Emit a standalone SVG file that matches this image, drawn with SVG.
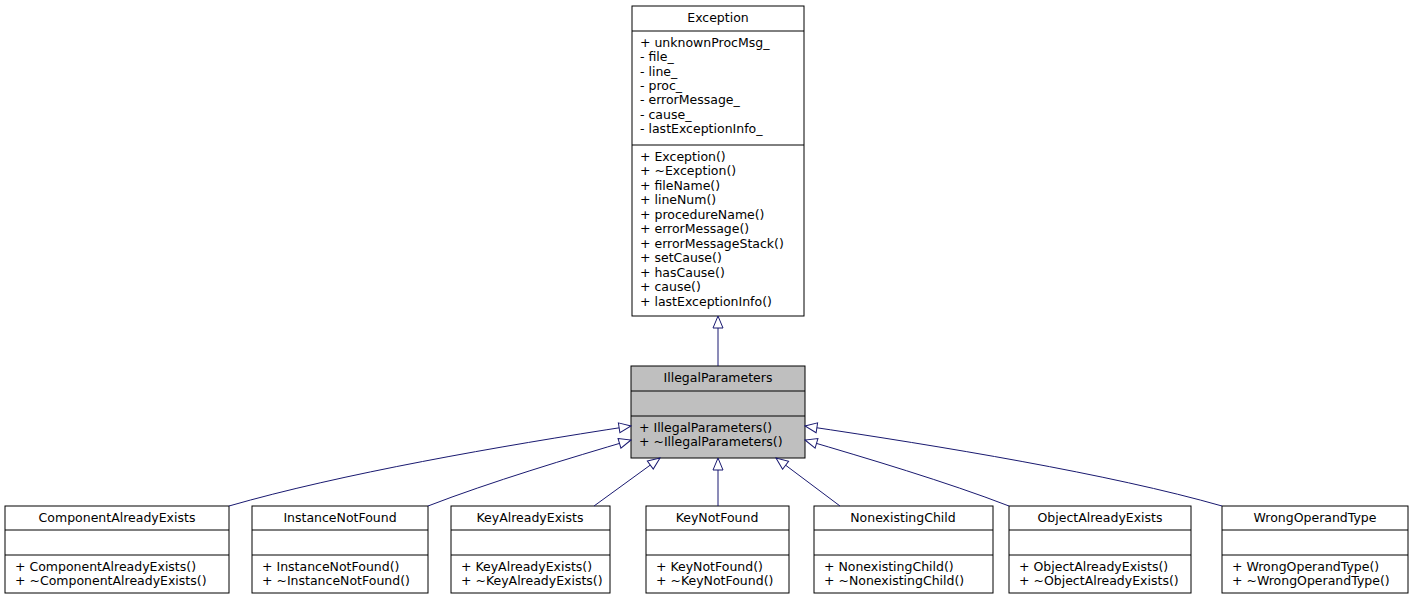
<svg xmlns="http://www.w3.org/2000/svg" width="1413" height="603" viewBox="0 0 1413 603">
<style>
text{font-family:"DejaVu Sans",sans-serif;font-size:12.5px;fill:#000}
.t{text-anchor:middle}
.b{fill:#fff;stroke:#000;stroke-width:1}
.g{fill:#bfbfbf;stroke:#000;stroke-width:1}
.l{stroke:#000;stroke-width:1}
.e{fill:none;stroke:#191970;stroke-width:1;marker-end:url(#a)}
</style>
<defs>
<marker id="a" markerUnits="userSpaceOnUse" markerWidth="14" markerHeight="12" refX="13" refY="6" orient="auto">
<path d="M1,1 L13,6 L1,11 Z" fill="#fff" stroke="#191970"/>
</marker>
</defs>
<rect width="1413" height="603" fill="#fff"/>
<g id="Exception">
<rect class="b" x="632" y="6" width="172" height="310"/>
<line class="l" x1="632" y1="31" x2="804" y2="31"/>
<line class="l" x1="632" y1="145" x2="804" y2="145"/>
<text class="t" x="718" y="22">Exception</text>
<text x="640" y="47">+ unknownProcMsg_</text>
<text x="640" y="61">- file_</text>
<text x="640" y="76">- line_</text>
<text x="640" y="90">- proc_</text>
<text x="640" y="104">- errorMessage_</text>
<text x="640" y="119">- cause_</text>
<text x="640" y="133">- lastExceptionInfo_</text>
<text x="640" y="161">+ Exception()</text>
<text x="640" y="175">+ ~Exception()</text>
<text x="640" y="190">+ fileName()</text>
<text x="640" y="204">+ lineNum()</text>
<text x="640" y="219">+ procedureName()</text>
<text x="640" y="233">+ errorMessage()</text>
<text x="640" y="248">+ errorMessageStack()</text>
<text x="640" y="262">+ setCause()</text>
<text x="640" y="277">+ hasCause()</text>
<text x="640" y="291">+ cause()</text>
<text x="640" y="306">+ lastExceptionInfo()</text>
</g>
<g id="IllegalParameters">
<rect class="g" x="631" y="366" width="174" height="92"/>
<line class="l" x1="631" y1="391" x2="805" y2="391"/>
<line class="l" x1="631" y1="416" x2="805" y2="416"/>
<text class="t" x="718" y="382">IllegalParameters</text>
<text x="639" y="432">+ IllegalParameters()</text>
<text x="639" y="446">+ ~IllegalParameters()</text>
</g>
<g id="ComponentAlreadyExists">
<rect class="b" x="5" y="506" width="224" height="87"/>
<line class="l" x1="5" y1="530" x2="229" y2="530"/><line class="l" x1="5" y1="555" x2="229" y2="555"/>
<text class="t" x="117" y="522">ComponentAlreadyExists</text>
<text x="15" y="571">+ ComponentAlreadyExists()</text>
<text x="15" y="585">+ ~ComponentAlreadyExists()</text>
</g>
<g id="InstanceNotFound">
<rect class="b" x="252" y="506" width="176" height="87"/>
<line class="l" x1="252" y1="530" x2="428" y2="530"/><line class="l" x1="252" y1="555" x2="428" y2="555"/>
<text class="t" x="340" y="522">InstanceNotFound</text>
<text x="262" y="571">+ InstanceNotFound()</text>
<text x="262" y="585">+ ~InstanceNotFound()</text>
</g>
<g id="KeyAlreadyExists">
<rect class="b" x="451" y="506" width="159" height="87"/>
<line class="l" x1="451" y1="530" x2="610" y2="530"/><line class="l" x1="451" y1="555" x2="610" y2="555"/>
<text class="t" x="530" y="522">KeyAlreadyExists</text>
<text x="461" y="571">+ KeyAlreadyExists()</text>
<text x="461" y="585">+ ~KeyAlreadyExists()</text>
</g>
<g id="KeyNotFound">
<rect class="b" x="646" y="506" width="143" height="87"/>
<line class="l" x1="646" y1="530" x2="789" y2="530"/><line class="l" x1="646" y1="555" x2="789" y2="555"/>
<text class="t" x="717" y="522">KeyNotFound</text>
<text x="656" y="571">+ KeyNotFound()</text>
<text x="656" y="585">+ ~KeyNotFound()</text>
</g>
<g id="NonexistingChild">
<rect class="b" x="814" y="506" width="179" height="87"/>
<line class="l" x1="814" y1="530" x2="993" y2="530"/><line class="l" x1="814" y1="555" x2="993" y2="555"/>
<text class="t" x="903" y="522">NonexistingChild</text>
<text x="824" y="571">+ NonexistingChild()</text>
<text x="824" y="585">+ ~NonexistingChild()</text>
</g>
<g id="ObjectAlreadyExists">
<rect class="b" x="1009" y="506" width="182" height="87"/>
<line class="l" x1="1009" y1="530" x2="1191" y2="530"/><line class="l" x1="1009" y1="555" x2="1191" y2="555"/>
<text class="t" x="1100" y="522">ObjectAlreadyExists</text>
<text x="1019" y="571">+ ObjectAlreadyExists()</text>
<text x="1019" y="585">+ ~ObjectAlreadyExists()</text>
</g>
<g id="WrongOperandType">
<rect class="b" x="1222" y="506" width="186" height="87"/>
<line class="l" x1="1222" y1="530" x2="1408" y2="530"/><line class="l" x1="1222" y1="555" x2="1408" y2="555"/>
<text class="t" x="1315" y="522">WrongOperandType</text>
<text x="1232" y="571">+ WrongOperandType()</text>
<text x="1232" y="585">+ ~WrongOperandType()</text>
</g>
<g id="connectors">
<path class="e" d="M718,366 L718,316"/>
<path class="e" d="M229,506 C340,474 500,446 631,426"/>
<path class="e" d="M428,506 C490,482 570,458 631,440"/>
<path class="e" d="M594,506 L660,458"/>
<path class="e" d="M718,506 L718,458"/>
<path class="e" d="M840,506 L776,458"/>
<path class="e" d="M1009,506 C947,482 866,458 805,440"/>
<path class="e" d="M1222,506 C1110,474 940,446 805,426"/>
</g>
</svg>
